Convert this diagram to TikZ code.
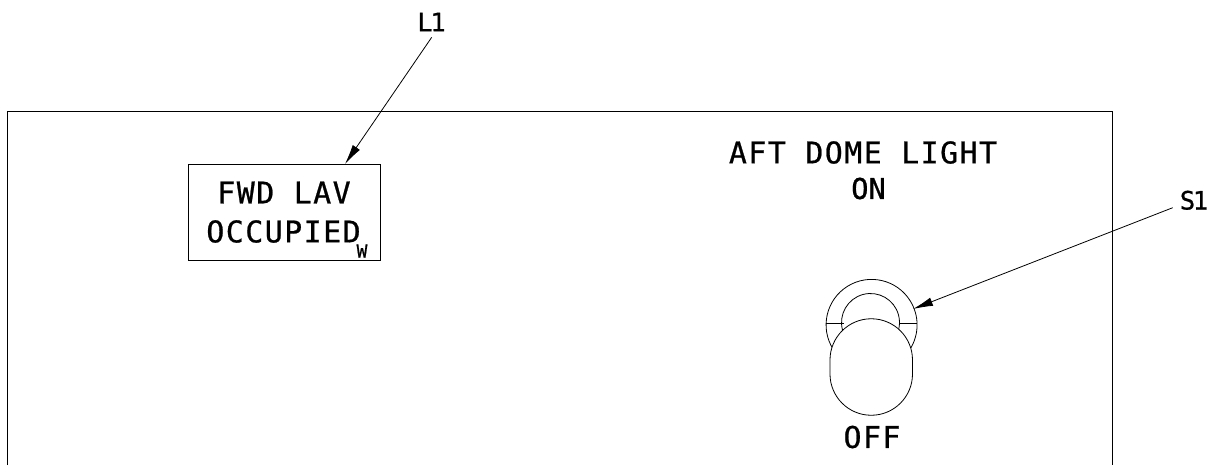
\documentclass[tikz,border=0pt]{standalone}
\usepackage{fontspec}
\setmainfont{DejaVu Sans Mono}
\usetikzlibrary{arrows.meta}
\newfontfamily\spacedmono[LetterSpace=5,FakeBold=0.8]{DejaVu Sans Mono}
\newfontfamily\plainmono[FakeBold=0.8]{DejaVu Sans Mono}
\newfontfamily\tightmono[LetterSpace=-9,FakeBold=0.8]{DejaVu Sans Mono}
\tikzset{
  ln/.style={draw=black,line width=0.6pt},
  leader/.style={ln,-{Latex[length=15pt,width=6.5pt]}},
  lbl/.style={inner sep=0pt,text=black,anchor=center},
  wlbl/.style={lbl,font=\spacedmono\fontsize{22.4}{26}\selectfont},
  tag/.style={lbl,font=\tightmono\fontsize{19}{22}\selectfont},
}
\begin{document}
\begin{tikzpicture}[x=0.75pt,y=-0.75pt]
\useasboundingbox (0,0) rectangle (1210,465);
\draw[ln] (7,465) -- (7,111) -- (1112,111) -- (1112,465);
\node[draw=black,line width=0.6pt,minimum width=144pt,minimum height=72pt,inner sep=0pt] (box) at (284,212) {};
\node[wlbl] (t1) at (284,192.5) {FWD LAV};
\node[wlbl] (t2) at (283.5,231.5) {OCCUPIED};
\node[lbl,font=\plainmono\fontsize{13.4}{15}\selectfont] (tw) at (362,251) {W};
\node[wlbl] (t3) at (863,152.5) {AFT DOME LIGHT};
\node[lbl,font=\plainmono\fontsize{21.5}{24}\selectfont] (t4) at (868.5,188.5) {ON};
\node[wlbl] (t5) at (872,437) {OFF};
\node[tag] (l1) at (431.5,22) {L1};
\node[tag] (s1) at (1194,200.3) {S1};
\coordinate (l1e) at (431.7,37.3);
\coordinate (l1t) at (345,164);
\coordinate (s1e) at (1172.7,207.7);
\coordinate (s1t) at (913,309);
\draw[leader] (l1e) -- (l1t);
\draw[leader] (s1e) -- (s1t);
% switch
\draw[ln] (833,349) arc[start angle=148,end angle=392,radius=45.5];
\draw[ln] (842.5,330) arc[start angle=165,end angle=375,radius=29];
\draw[ln] (826,323.5) -- (843.5,323.5);
\draw[ln] (899.5,323.5) -- (916.5,323.5);
\draw[ln,fill=white] (830,360) arc[start angle=180,end angle=360,radius=41.25] -- (912.5,374) arc[start angle=0,end angle=180,radius=41.25] -- cycle;
\end{tikzpicture}
\end{document}
